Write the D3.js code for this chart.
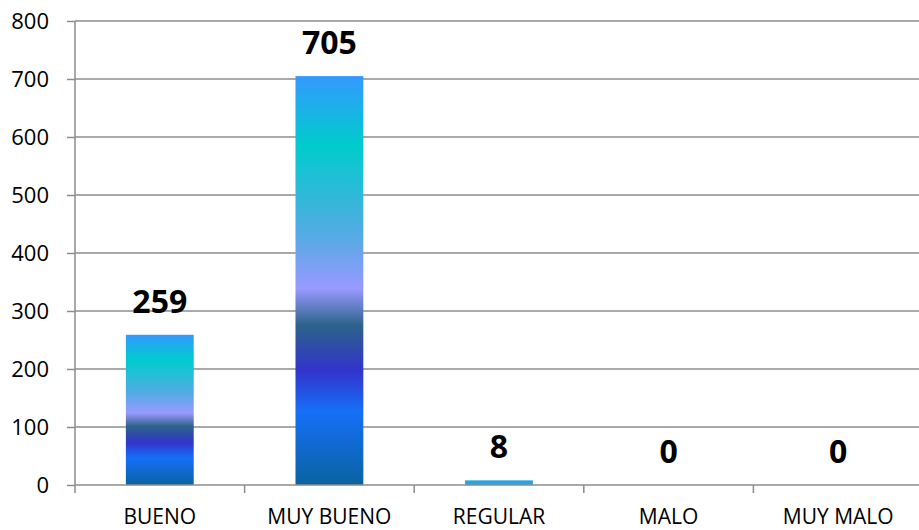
<!DOCTYPE html>
<html>
<head>
<meta charset="utf-8">
<script src="https://cdn.jsdelivr.net/npm/d3@7"></script>
<style>
  body { margin: 0; background: #fff; }
  svg text { font-family: "Open Sans", sans-serif; fill: #000; }
</style>
</head>
<body>
<svg width="919" height="530"></svg>
<script>
var categories = ["BUENO", "MUY BUENO", "REGULAR", "MALO", "MUY MALO"];
var values = [259, 705, 8, 0, 0];
var yTicks = [0, 100, 200, 300, 400, 500, 600, 700, 800];

var svg = d3.select("svg");

// plot area (right side runs past the window, as in the picture)
var plotLeft = 75, plotRight = 923, plotTop = 21, plotBottom = 485;

var x = d3.scaleBand()
    .domain(categories)
    .range([plotLeft, plotRight])
    .paddingInner(0.6)
    .paddingOuter(0.3);

var band = d3.scaleBand().domain(categories).range([plotLeft, plotRight]);

var y = d3.scaleLinear()
    .domain([0, 800])
    .range([plotBottom, plotTop]);

// bar gradient, bottom to top
var grad = svg.append("defs").append("linearGradient")
    .attr("id", "barGrad")
    .attr("x1", 0).attr("y1", 1).attr("x2", 0).attr("y2", 0);
var stops = [
  [0, "#0a62a0"], [0.18, "#1570f8"], [0.28, "#3333cc"], [0.39, "#2b6389"],
  [0.48, "#9999ff"], [0.61, "#55aae4"], [0.83, "#00cccc"], [1, "#3399ff"]
];
grad.selectAll("stop").data(stops).enter().append("stop")
    .attr("offset", function(d) { return d[0]; })
    .attr("stop-color", function(d) { return d[1]; });

// gridlines
svg.append("g")
  .selectAll("line")
  .data(yTicks.filter(function(d) { return d > 0; }))
  .enter().append("line")
    .attr("x1", plotLeft).attr("x2", plotRight)
    .attr("y1", function(d) { return y(d); })
    .attr("y2", function(d) { return y(d); })
    .attr("stroke", "#8c8c8c")
    .attr("stroke-width", 1.5);

// y axis
var yAxis = svg.append("g")
    .attr("transform", "translate(" + plotLeft + ",0)")
    .call(d3.axisLeft(y).tickValues(yTicks).tickSize(8).tickPadding(18));
yAxis.select(".domain").remove();
yAxis.selectAll(".tick line").attr("stroke", "#8c8c8c").attr("stroke-width", 1.5);
yAxis.selectAll(".tick text").attr("font-size", 22).attr("font-family", "Open Sans");

svg.append("line")
    .attr("x1", plotLeft).attr("x2", plotLeft)
    .attr("y1", plotTop).attr("y2", plotBottom + 8)
    .attr("stroke", "#8c8c8c").attr("stroke-width", 1.5);

// bars (a very short bar only shows the top of the gradient)
svg.append("g")
  .selectAll("rect")
  .data(values)
  .enter().append("rect")
    .attr("x", function(d, i) { return x(categories[i]); })
    .attr("width", x.bandwidth())
    .attr("y", function(d) { return y(d); })
    .attr("height", function(d) { return plotBottom - y(d); })
    .attr("fill", function(d) { return plotBottom - y(d) < 10 ? "#22a6e6" : "url(#barGrad)"; });

// x axis
svg.append("line")
    .attr("x1", plotLeft).attr("x2", plotRight)
    .attr("y1", plotBottom).attr("y2", plotBottom)
    .attr("stroke", "#8c8c8c").attr("stroke-width", 1.5);

svg.append("g")
  .selectAll("line")
  .data(categories.slice(1))
  .enter().append("line")
    .attr("x1", function(d) { return band(d); })
    .attr("x2", function(d) { return band(d); })
    .attr("y1", plotBottom).attr("y2", plotBottom + 8)
    .attr("stroke", "#8c8c8c").attr("stroke-width", 1.5);

svg.append("g")
  .selectAll("text")
  .data(categories)
  .enter().append("text")
    .attr("x", function(d) { return band(d) + band.bandwidth() / 2; })
    .attr("y", 524)
    .attr("text-anchor", "middle")
    .attr("font-size", 21)
    .text(function(d) { return d; });

// value labels
svg.append("g")
  .selectAll("text")
  .data(values)
  .enter().append("text")
    .attr("x", function(d, i) { return x(categories[i]) + x.bandwidth() / 2; })
    .attr("y", function(d) { return y(d) - 22; })
    .attr("text-anchor", "middle")
    .attr("font-size", 32)
    .attr("font-weight", "bold")
    .text(function(d) { return d; });
</script>
</body>
</html>
